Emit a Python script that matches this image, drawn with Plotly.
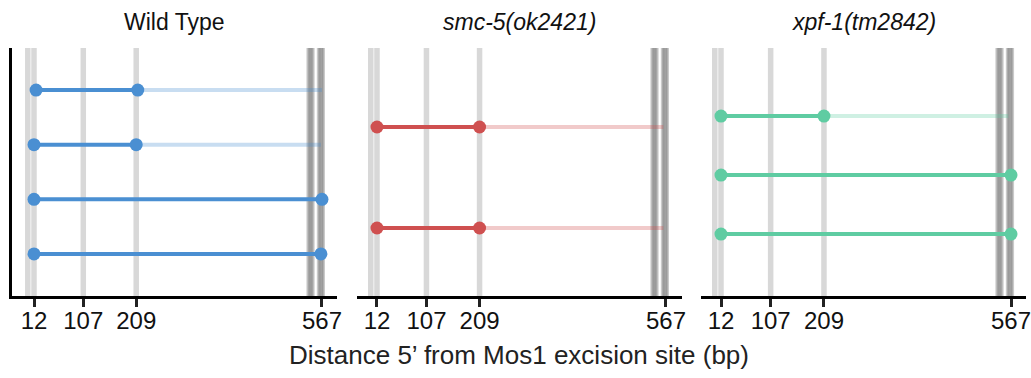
import plotly.graph_objects as go

# ---- data ----
panels = ["Wild Type", "smc-5(ok2421)", "xpf-1(tm2842)"]
tick_vals = [12, 107, 209, 567]
tick_text = ["12", "107", "209", "567"]
ref_sites = [0, 12, 107, 209]          # light grey reference positions
repeat_sites = [545, 565]              # dark grey clusters

# each row: start, solid end, faded end
wt_start = [16, 12, 12, 12]
wt_end = [212, 209, 567, 565]
wt_faded_end = [567, 565, None, None]

smc_start = [12, 12]
smc_end = [209, 209]
smc_faded_end = [562, 562]

xpf_start = [12, 12, 12]
xpf_end = [209, 567, 567]
xpf_faded_end = [562, None, None]

rows_data = [
    (wt_start, wt_end, wt_faded_end),
    (smc_start, smc_end, smc_faded_end),
    (xpf_start, xpf_end, xpf_faded_end),
]
colors = ["#4a8fd2", "#cf5050", "#5fcca2"]
faded = ["rgba(74,143,210,0.3)", "rgba(207,80,80,0.3)", "rgba(95,204,162,0.3)"]

W, H = 1031, 378
px_domains = [(12, 337), (357, 682), (701, 1026)]
x_ranges = [[-30.4, 596], [-26.4, 597.8], [-26.3, 595.7]]
y_ranges = [[4.77, 0.23], [2.673, 0.218], [4.05, -0.153]]
FONT = "Liberation Sans, Arial"

fig = go.Figure()
for i in range(3):
    sfx = "" if i == 0 else str(i + 1)
    xa, ya = "x" + sfx, "y" + sfx
    starts, ends, fends = rows_data[i]
    for r, (s, e, fe) in enumerate(zip(starts, ends, fends)):
        row = r + 1
        if fe is not None:
            fig.add_trace(go.Scatter(x=[e, fe], y=[row, row], mode="lines",
                                     line=dict(color=faded[i], width=4),
                                     xaxis=xa, yaxis=ya, showlegend=False, hoverinfo="skip"))
        fig.add_trace(go.Scatter(x=[s, e], y=[row, row], mode="lines+markers",
                                 line=dict(color=colors[i], width=4),
                                 marker=dict(color=colors[i], size=13),
                                 xaxis=xa, yaxis=ya, showlegend=False))
    for v in ref_sites:
        fig.add_shape(type="line", x0=v, x1=v, y0=0, y1=1, xref=xa, yref=ya + " domain",
                      line=dict(color="rgba(200,200,200,0.7)", width=5.5), layer="below")
    for c in repeat_sites:
        for off in [-5, -2.5, 0, 2.5, 5]:
            fig.add_shape(type="line", x0=c + off, x1=c + off, y0=0, y1=1, xref=xa,
                          yref=ya + " domain",
                          line=dict(color="rgba(80,80,80,0.3)", width=3), layer="below")
    d = px_domains[i]
    fig.layout["xaxis" + sfx] = dict(
        domain=[d[0] / W, d[1] / W], range=x_ranges[i], anchor=ya, automargin=False,
        tickvals=tick_vals, ticktext=tick_text, ticks="outside", ticklen=8,
        tickwidth=2.5, tickcolor="#222", showline=True, linecolor="black", linewidth=2.5,
        showgrid=False, zeroline=False, ticklabelstandoff=-7, ticklabeloverflow="allow",
        tickfont=dict(family=FONT, size=24, color="#111"))
    fig.layout["yaxis" + sfx] = dict(
        domain=[0, 1], range=y_ranges[i], anchor=xa, showticklabels=False, automargin=False,
        showgrid=False, zeroline=False, ticks="",
        showline=(i == 0), linecolor="black", linewidth=3)

plot_top, plot_bot = 48, 296
ph = plot_bot - plot_top
for i in range(3):
    d = px_domains[i]
    fig.add_annotation(text=panels[i] if i == 0 else "<i>" + panels[i] + "</i>",
                       x=(d[0] + d[1]) / 2 / W, y=1 + (plot_top - 22) / ph,
                       xref="paper", yref="paper", showarrow=False,
                       xanchor="center", yanchor="middle",
                       font=dict(family=FONT, size=23, color="#111"))

fig.add_annotation(text="Distance 5’ from Mos1 excision site (bp)",
                   x=519 / W, y=-(355 - plot_bot) / ph,
                   xref="paper", yref="paper", showarrow=False,
                   xanchor="center", yanchor="middle",
                   font=dict(family=FONT, size=26, color="#222"))

fig.update_layout(width=W, height=H, margin=dict(l=0, r=0, t=plot_top, b=H - plot_bot),
                  plot_bgcolor="white", paper_bgcolor="white")
fig.write_html("out.html")
